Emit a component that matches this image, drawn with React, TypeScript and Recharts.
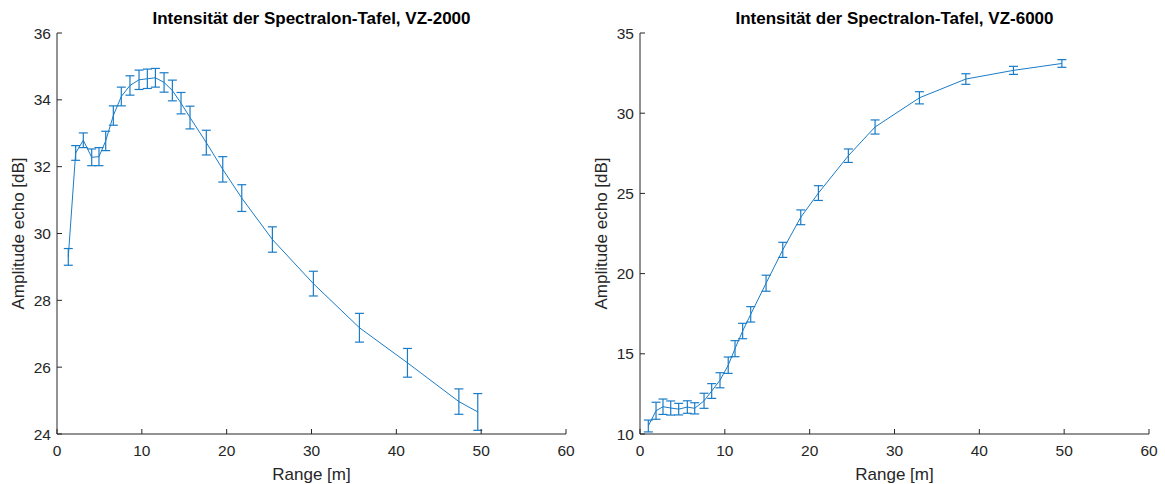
import { ErrorBar, Label, Line, LineChart, XAxis, YAxis } from 'recharts';

// VZ-2000
const rangeL = [1.33, 2.2, 3.1, 4.09, 4.95, 5.74, 6.64, 7.58, 8.6, 9.67, 10.65, 11.6, 12.62, 13.6, 14.62, 15.68, 17.6, 19.54, 21.78, 25.39, 30.22, 35.65, 41.31, 47.37, 49.6];
const ampL = [29.3, 32.41, 32.79, 32.28, 32.3, 32.77, 33.53, 34.1, 34.43, 34.6, 34.63, 34.66, 34.52, 34.28, 33.9, 33.47, 32.72, 31.92, 31.06, 29.82, 28.5, 27.18, 26.13, 24.97, 24.66];
const errL = [0.25, 0.22, 0.22, 0.25, 0.27, 0.29, 0.29, 0.28, 0.29, 0.29, 0.29, 0.28, 0.29, 0.31, 0.32, 0.34, 0.37, 0.38, 0.4, 0.38, 0.37, 0.43, 0.43, 0.38, 0.55];

// VZ-6000
const rangeR = [0.98, 1.89, 2.71, 3.62, 4.56, 5.58, 6.45, 7.55, 8.45, 9.43, 10.4, 11.2, 12.1, 13.05, 14.86, 16.83, 18.95, 21.03, 24.56, 27.71, 32.94, 38.41, 44.02, 49.73];
const ampR = [10.5, 11.45, 11.7, 11.62, 11.55, 11.68, 11.6, 12.07, 12.68, 13.35, 14.29, 15.32, 16.42, 17.46, 19.4, 21.48, 23.51, 25.02, 27.35, 29.14, 30.96, 32.13, 32.67, 33.1];
const errR = [0.37, 0.53, 0.48, 0.44, 0.36, 0.39, 0.35, 0.47, 0.46, 0.47, 0.51, 0.5, 0.48, 0.48, 0.5, 0.47, 0.46, 0.46, 0.42, 0.44, 0.38, 0.33, 0.25, 0.24];

const xTicks = [0, 10, 20, 30, 40, 50, 60];
const yTicksL = [24, 26, 28, 30, 32, 34, 36];
const yTicksR = [10, 15, 20, 25, 30, 35];

const FONT = '"Liberation Sans", Arial, sans-serif';
const AXIS = '#262626';
const BLUE = '#1a7cc7';

function Panel({ title, xs, ys, es, yTicks }: { title: string; xs: number[]; ys: number[]; es: number[]; yTicks: number[] }) {
  const data = xs.map((x, i) => ({ x, y: ys[i], e: es[i] }));
  const dom: [number, number] = [yTicks[0], yTicks[yTicks.length - 1]];
  const tick = { fill: AXIS, fontSize: 15.5, fontFamily: FONT };
  return (
    <div style={{ position: 'relative', width: 583, height: 484 }}>
      <div
        style={{
          position: 'absolute',
          left: 57,
          width: 509,
          top: 9,
          lineHeight: '20px',
          textAlign: 'center',
          fontFamily: FONT,
          fontWeight: 'bold',
          fontSize: 17,
          color: '#000',
        }}
      >
        {title}
      </div>
      <LineChart width={583} height={484} data={data} margin={{ top: 33, right: 17, left: 17, bottom: 0 }}>
        <XAxis
          dataKey="x"
          type="number"
          domain={[0, 60]}
          ticks={xTicks}
          height={50}
          stroke={AXIS}
          tick={tick}
          tickSize={-5}
          tickMargin={16}
        >
          <Label value="Range [m]" position="insideBottom" offset={4} style={{ fill: AXIS, fontSize: 17, fontFamily: FONT }} />
        </XAxis>
        <XAxis xAxisId="top" orientation="top" type="number" domain={[0, 60]} ticks={xTicks} height={0} mirror tick={false} stroke={AXIS} tickSize={5} />
        <YAxis
          type="number"
          domain={dom}
          ticks={yTicks}
          width={40}
          stroke={AXIS}
          tick={tick}
          tickSize={-5}
          tickMargin={11}
        >
          <Label
            value="Amplitude echo [dB]"
            angle={-90}
            position="insideLeft"
            offset={1}
            style={{ fill: AXIS, fontSize: 17, fontFamily: FONT, textAnchor: 'middle' }}
          />
        </YAxis>
        <YAxis yAxisId="right" orientation="right" type="number" domain={dom} ticks={yTicks} width={0} mirror tick={false} stroke={AXIS} tickSize={5} />
        <Line dataKey="y" type="linear" stroke={BLUE} strokeWidth={1} dot={false} isAnimationActive={false}>
          <ErrorBar dataKey="e" width={4.5} stroke={BLUE} strokeWidth={1.2} direction="y" isAnimationActive={false} />
        </Line>
      </LineChart>
    </div>
  );
}

export default function App() {
  return (
    <div style={{ position: 'absolute', left: 0, top: 0, width: 1165, height: 484, background: '#fff', display: 'flex' }}>
      <Panel title="Intensität der Spectralon-Tafel, VZ-2000" xs={rangeL} ys={ampL} es={errL} yTicks={yTicksL} />
      <Panel title="Intensität der Spectralon-Tafel, VZ-6000" xs={rangeR} ys={ampR} es={errR} yTicks={yTicksR} />
    </div>
  );
}
